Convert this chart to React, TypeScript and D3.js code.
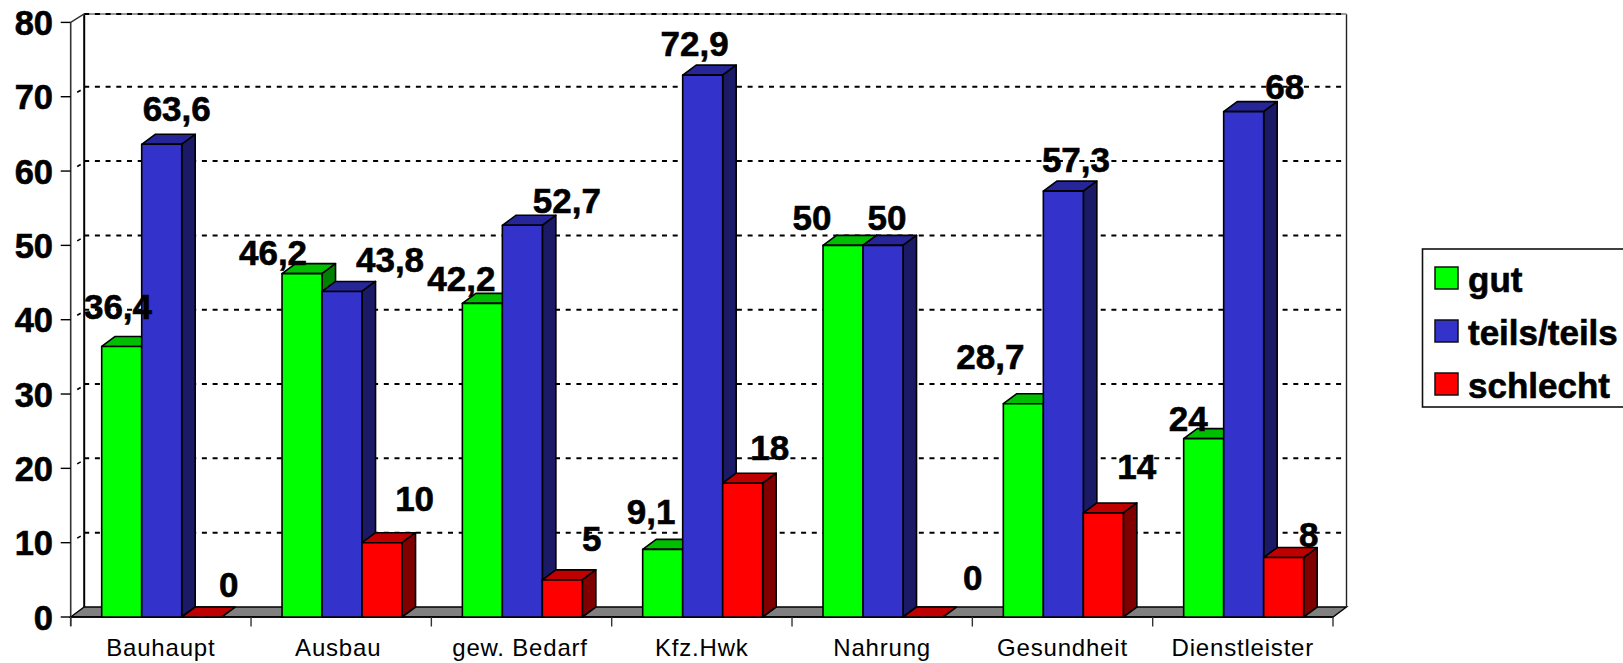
import React from "react";
import * as d3 from "d3";

const categories = ["Bauhaupt", "Ausbau", "gew. Bedarf", "Kfz.Hwk", "Nahrung", "Gesundheit", "Dienstleister"];
const seriesNames = ["gut", "teils/teils", "schlecht"];
const gut = [36.4, 46.2, 42.2, 9.1, 50, 28.7, 24];
const teils = [63.6, 43.8, 52.7, 72.9, 50, 57.3, 68];
const schlecht = [0, 10, 5, 18, 0, 14, 8];
const yTicks = [0, 10, 20, 30, 40, 50, 60, 70, 80];

// label placement (offset from bar centre / bar top)
const nudgeX = [
  [-3.7, -29, -21, -11.6, -31, -33, -15.5],
  [15, 48, 44.5, -8, 4, 12.6, 41],
  [27, 32.6, 29.3, 27, 49.7, 33.4, 25],
];
const nudgeY = [
  [-27.5, -8.7, -12.5, -25, -15.5, -35, -7.7],
  [-23.5, -19.6, -12.4, -19.4, -15.5, -19.3, -12.8],
  [-20, -31.7, -28.9, -23.3, -27, -34, -10.6],
];
const catNudge = [0, -3, -1.5, 0, 0, 0, 0];

const palettes = [
  { front: "#00ff00", top: "#00bf00", side: "#008000" },
  { front: "#3333cc", top: "#262699", side: "#1a1a66" },
  { front: "#ff0000", top: "#bf0000", side: "#800000" },
];

const FONT = "'Liberation Sans', Arial, sans-serif";
const DX = 13.5;
const DY = 10;
const TOP_DY = 8.5;
const left = 70.7;
const right = 1333;
const y = d3.scaleLinear().domain([0, 80]).range([617, 22.4]);
const xCat = d3.scaleBand<string>().domain(categories).range([left, right]);
const xSer = d3.scaleBand<string>().domain(seriesNames).range([31, 151]);

const poly = (pts: number[][]) => d3.line()(pts as [number, number][]) + "Z";

function Bar({ x, w, top, base, c }: { x: number; w: number; top: number; base: number; c: any }) {
  return (
    <g stroke="#000" strokeWidth={1.6} strokeLinejoin="round">
      <path d={poly([[x, top], [x + DX, top - DY], [x + w + DX, top - DY], [x + w, top]])} fill={c.top} />
      {base > top && (
        <>
          <path d={poly([[x + w, top], [x + w + DX, top - DY], [x + w + DX, base - DY], [x + w, base]])} fill={c.side} />
          <rect x={x} y={top} width={w} height={base - top} fill={c.front} />
        </>
      )}
    </g>
  );
}

export default function App() {
  const series = [gut, teils, schlecht];
  const base = y(0);
  const w = xSer.bandwidth();
  const wallTop = y(80) - TOP_DY;
  const marks = categories.flatMap((cat, i) =>
    series.map((vals, j) => ({ cat, i, j, v: vals[i] }))
  );
  const bold = { fontWeight: "bold" as const, fill: "#000", stroke: "#000", strokeWidth: 0.6 };
  return (
    <svg
      width={1623}
      height={663}
      style={{ position: "absolute", left: 0, top: 0, background: "#fff" }}
      fontFamily={FONT}
    >
      {/* floor */}
      <path
        d={poly([[left, base], [left + DX, base - DY], [right + DX, base - DY], [right, base]])}
        fill="#808080"
        stroke="#000"
        strokeWidth={1.4}
      />
      {/* walls */}
      <line x1={left + DX} x2={left + DX} y1={wallTop} y2={base - DY} stroke="#000" strokeWidth={2} />
      <line x1={right + DX} x2={right + DX} y1={wallTop} y2={base - DY} stroke="#222" strokeWidth={1.4} />
      <line x1={left + DX} x2={right + DX} y1={wallTop} y2={wallTop} stroke="#999" strokeWidth={2} />
      {/* grid */}
      {yTicks.slice(1).map((t) => {
        const gy = t === 80 ? wallTop : y(t) - DY;
        return (
          <g key={t} stroke="#000" strokeWidth={2}>
            <line x1={left + DX} x2={right + DX} y1={gy} y2={gy} strokeDasharray="5 5.7" />
            {t < 80 && <line x1={left + 6.5} x2={left + 10} y1={y(t) - 4.5} y2={y(t) - 6.5} strokeWidth={1.6} />}
          </g>
        );
      })}
      {/* y axis */}
      <line x1={left} x2={left} y1={y(80)} y2={base + 9} stroke="#333" strokeWidth={1.6} />
      <line x1={left} x2={left + DX} y1={y(80)} y2={wallTop} stroke="#333" strokeWidth={1.4} />
      {yTicks.map((t) => (
        <g key={t}>
          <line x1={left - 10} x2={left} y1={y(t)} y2={y(t)} stroke="#000" strokeWidth={1.4} />
          <text x={53} y={y(t) + 12.5} textAnchor="end" fontSize={34.5} {...bold}>
            {t}
          </text>
        </g>
      ))}
      {/* x axis */}
      <line x1={left} x2={right} y1={base} y2={base} stroke="#000" strokeWidth={1.4} />
      {[...categories.map((c) => xCat(c)!), right].map((x, i) => (
        <line key={i} x1={x} x2={x} y1={base} y2={base + 9.5} stroke="#333" strokeWidth={1.4} />
      ))}
      {/* bars */}
      {marks.map((m) => (
        <Bar
          key={m.cat + m.j}
          x={xCat(m.cat)! + xSer(seriesNames[m.j])!}
          w={w}
          top={y(m.v)}
          base={base}
          c={palettes[m.j]}
        />
      ))}
      {/* category labels */}
      {categories.map((c, i) => (
        <text
          key={c}
          x={xCat(c)! + xCat.bandwidth() / 2 + catNudge[i]}
          y={656}
          textAnchor="middle"
          fontSize={24}
          letterSpacing={0.8}
          fill="#000"
        >
          {c}
        </text>
      ))}
      {/* data labels */}
      {marks.map((m) => (
        <text
          key={"l" + m.cat + m.j}
          x={xCat(m.cat)! + xSer(seriesNames[m.j])! + w / 2 + nudgeX[m.j][m.i]}
          y={y(m.v) + nudgeY[m.j][m.i]}
          textAnchor="middle"
          fontSize={35}
          {...bold}
        >
          {String(m.v).replace(".", ",")}
        </text>
      ))}
      {/* legend */}
      <rect x={1422.5} y={249} width={240} height={158} fill="#fff" stroke="#111" strokeWidth={1.6} />
      {seriesNames.map((s, j) => (
        <g key={s}>
          <rect x={1435} y={267 + j * 53} width={23} height={22} fill={palettes[j].front} stroke="#111" strokeWidth={1.5} />
          <text x={1468} y={292 + j * 53} fontSize={35} {...bold}>
            {s}
          </text>
        </g>
      ))}
    </svg>
  );
}
